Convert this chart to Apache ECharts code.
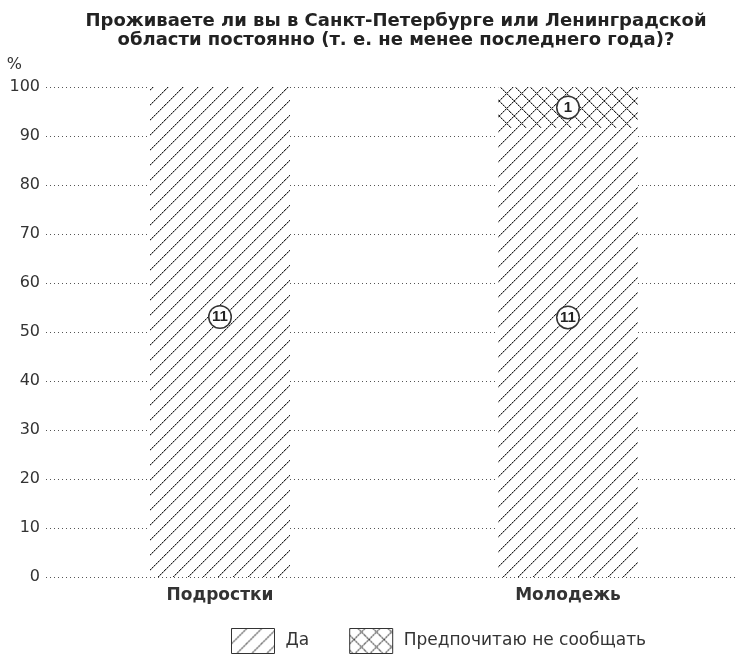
<!DOCTYPE html>
<html><head><meta charset="utf-8">
<script src="https://cdn.jsdelivr.net/npm/echarts@6/dist/echarts.min.js"></script>
<style>html,body{margin:0;padding:0;background:#fff}#c{width:735px;height:659px}</style>
</head><body><div id="c"></div>
<script>
var categories = ['Подростки', 'Молодежь'];
var seriesNames = ['Да', 'Предпочитаю не сообщать'];
var countsYes = [11, 11];
var countsNo = [0, 1];
var percentYes = [100, 91.67];
var percentNo = [0, 8.33];
var yTicks = [0, 10, 20, 30, 40, 50, 60, 70, 80, 90, 100];

var FONT = 'DejaVu Sans';

function makeHatch(cross) {
  var N = 15;
  var c = document.createElement('canvas');
  c.width = N; c.height = N;
  var g = c.getContext('2d');
  g.fillStyle = '#fff'; g.fillRect(0, 0, N, N);
  function px(x, y, col) { g.fillStyle = col; g.fillRect(((x % N) + N) % N, ((y % N) + N) % N, 1, 1); }
  for (var x = 0; x < N; x++) {
    var dark = x % 2 === 0 ? '#1e1e1e' : '#8a8a8a';
    px(x + 1, N - 1 - x, '#c8c8c8');
    px(x, N - 1 - x, dark);
    if (cross) {
      px(x + 1, x + 7, '#c8c8c8');
      px(x, x + 7, dark);
    }
  }
  return c;
}
var hatchYes = { image: makeHatch(false), repeat: 'repeat' };
var hatchNo = { image: makeHatch(true), repeat: 'repeat' };

var labelRich = {
  c: { width: 21, height: 21, lineHeight: 21, borderRadius: 11, borderColor: '#333', borderWidth: 1.5,
       backgroundColor: '#fff', align: 'center', fontSize: 15, fontWeight: 'bold', color: '#222',
       fontFamily: 'Liberation Sans' }
};
var yesOffsets = [[0, -15], [0, -35]];

function buildData(pcts, counts, offsets) {
  return pcts.map(function (v, i) {
    var d = { value: v, count: counts[i] };
    if (offsets) d.label = { offset: offsets[i] };
    return d;
  });
}

var chart = echarts.init(document.getElementById('c'), null, { renderer: 'canvas' });
chart.setOption({
  animation: false,
  backgroundColor: '#fff',
  textStyle: { fontFamily: FONT },
  title: {
    text: 'Проживаете ли вы в Санкт-Петербурге или Ленинградской\nобласти постоянно (т. е. не менее последнего года)?',
    left: 391, top: 7, textAlign: 'center',
    textStyle: { fontSize: 18, fontWeight: 'bold', color: '#222', lineHeight: 19, fontFamily: FONT }
  },
  grid: { left: 46, right: -7, top: 87, bottom: 82, containLabel: false, outerBoundsMode: 'none' },
  legend: {
    data: seriesNames, left: 231, top: 628, padding: 0, itemWidth: 43, itemHeight: 25, itemGap: 40,
    icon: 'rect',
    itemStyle: { borderColor: '#333', borderWidth: 1 },
    textStyle: { fontSize: 17, color: '#333', fontFamily: FONT, padding: [0, 0, 0, 6] }
  },
  xAxis: {
    type: 'category', data: categories,
    axisLine: { show: false }, axisTick: { show: false },
    axisLabel: { fontSize: 17, fontWeight: 'bold', color: '#333', margin: 10, fontFamily: FONT }
  },
  yAxis: {
    type: 'value', min: 0, max: 100, interval: 10,
    name: '%', nameLocation: 'end', nameGap: 14,
    nameTextStyle: { fontSize: 16, color: '#333', align: 'right', padding: [0, 24, 0, 0], fontFamily: FONT },
    axisLine: { show: false }, axisTick: { show: false },
    axisLabel: { fontSize: 16, color: '#333', margin: 6, fontFamily: FONT,
      formatter: function (v) { return yTicks.indexOf(v) >= 0 ? String(v) : ''; } },
    splitLine: { lineStyle: { color: '#555', type: [1, 3], width: 1 } }
  },
  series: [
    {
      name: seriesNames[0], type: 'bar', stack: 's', barWidth: 140,
      data: buildData(percentYes, countsYes, yesOffsets),
      itemStyle: { color: hatchYes },
      label: { show: true, position: 'inside', rich: labelRich,
        formatter: function (p) { return p.data.count ? '{c|' + p.data.count + '}' : ''; } }
    },
    {
      name: seriesNames[1], type: 'bar', stack: 's', barWidth: 140,
      data: buildData(percentNo, countsNo, null),
      itemStyle: { color: hatchNo },
      label: { show: true, position: 'inside', rich: labelRich,
        formatter: function (p) { return p.data.count ? '{c|' + p.data.count + '}' : ''; } }
    }
  ]
});
</script></body></html>
